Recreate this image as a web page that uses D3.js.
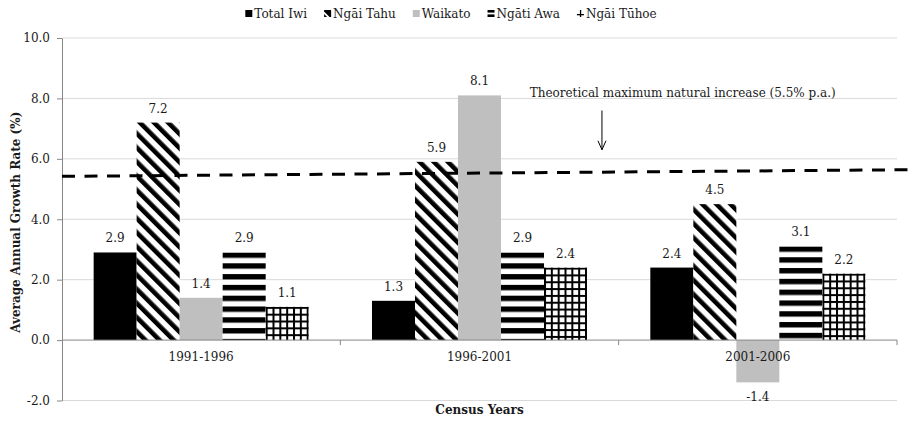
<!DOCTYPE html>
<html><head><meta charset="utf-8">
<script src="https://cdn.jsdelivr.net/npm/d3@7"></script>
<style>
body{margin:0;background:#fff}
svg{display:block}
text{font-family:'DejaVu Serif',serif;fill:#1a1a1a}
</style>
</head><body>
<svg id="chart" width="912" height="421"></svg>
<script>
// ---- data ----
const categories = ["1991-1996", "1996-2001", "2001-2006"];
const seriesNames = ["Total Iwi", "Ngāi Tahu", "Waikato", "Ngāti Awa", "Ngāi Tūhoe"];
const totalIwi = [2.9, 1.3, 2.4];
const ngaiTahu = [7.2, 5.9, 4.5];
const waikato = [1.4, 8.1, -1.4];
const ngatiAwa = [2.9, 2.9, 3.1];
const ngaiTuhoe = [1.1, 2.4, 2.2];
const yTicks = [-2, 0, 2, 4, 6, 8, 10];
const yTickLabels = ["-2.0", "0.0", "2.0", "4.0", "6.0", "8.0", "10.0"];
const maxIncreaseLine = [5.42, 5.64]; // start and end of the dashed reference line
const annotationText = "Theoretical maximum natural increase (5.5% p.a.)";
const yTitle = "Average Annual Growth Rate (%)";
const xTitle = "Census Years";

const seriesValues = [totalIwi, ngaiTahu, waikato, ngatiAwa, ngaiTuhoe];
const seriesStyle = ["solid-black", "diag", "solid-grey", "hstripe", "grid"];

// ---- layout ----
const W = 912, H = 421;
const M = {left: 62, right: 897, top: 38, bottom: 400.5};
const FS = 12;
const svg = d3.select("#chart");
const defs = svg.append("defs");

const x0 = d3.scaleBand().domain(categories).range([M.left, M.right]);
const x1 = d3.scaleBand().domain(seriesNames).range([0, x0.bandwidth()]).paddingInner(0).paddingOuter(0.736);
const y = d3.scaleLinear().domain([-2, 10]).range([M.bottom, M.top]);
const bw = x1.bandwidth();

// gridlines
svg.append("g").selectAll("line").data(yTicks.filter(d => d !== 0)).join("line")
  .attr("x1", M.left).attr("x2", M.right)
  .attr("y1", d => y(d)).attr("y2", d => y(d))
  .attr("stroke", "#d9d9d9").attr("stroke-width", 1);

// pattern makers
let pid = 0;
function makePattern(style, px, py, w) {
  const id = "p" + (pid++);
  if (style === "diag") {
    const p = defs.append("pattern").attr("id", id).attr("patternUnits", "userSpaceOnUse")
      .attr("width", 10).attr("height", 10).attr("patternTransform", "rotate(-45)");
    p.append("rect").attr("width", 10).attr("height", 10).attr("fill", "#fff");
    p.append("rect").attr("width", 4.6).attr("height", 10).attr("fill", "#000");
  } else if (style === "hstripe") {
    const per = 10.8;
    const p = defs.append("pattern").attr("id", id).attr("patternUnits", "userSpaceOnUse")
      .attr("x", px).attr("y", py).attr("width", 20).attr("height", per);
    p.append("rect").attr("width", 20).attr("height", per).attr("fill", "#fff");
    p.append("rect").attr("width", 20).attr("height", 5.4).attr("fill", "#000");
  } else if (style === "grid") {
    const per = (w - 2) / 6;
    const p = defs.append("pattern").attr("id", id).attr("patternUnits", "userSpaceOnUse")
      .attr("x", px).attr("y", py).attr("width", per).attr("height", per);
    p.append("rect").attr("width", per).attr("height", per).attr("fill", "#fff");
    p.append("rect").attr("width", 2).attr("height", per).attr("fill", "#000");
    p.append("rect").attr("width", per).attr("height", 2).attr("fill", "#000");
  }
  return "url(#" + id + ")";
}
function fillFor(style, px, py, w) {
  if (style === "solid-black") return "#000";
  if (style === "solid-grey") return "#bfbfbf";
  return makePattern(style, px, py, w);
}

// bars
const barG = svg.append("g");
seriesNames.forEach((s, si) => {
  seriesValues[si].forEach((v, ci) => {
    const bx = x0(categories[ci]) + x1(s);
    const by = y(Math.max(0, v));
    const bh = Math.abs(y(v) - y(0));
    barG.append("rect").attr("x", bx).attr("y", by).attr("width", bw).attr("height", bh)
      .attr("fill", fillFor(seriesStyle[si], bx, by, bw));
  });
});

// data labels
const lblG = svg.append("g");
seriesNames.forEach((s, si) => {
  seriesValues[si].forEach((v, ci) => {
    const cx = x0(categories[ci]) + x1(s) + bw / 2;
    lblG.append("text").attr("x", cx)
      .attr("y", v >= 0 ? y(v) - 10 : y(v) + 19)
      .attr("text-anchor", "middle").attr("font-size", FS)
      .text(v.toFixed(1));
  });
});

// y axis
const yAxis = d3.axisLeft(y).tickValues(yTicks).tickFormat((d, i) => yTickLabels[i])
  .tickSize(5).tickSizeOuter(0).tickPadding(7);
const yg = svg.append("g").attr("transform", `translate(${M.left},0)`).call(yAxis);
yg.select(".domain").attr("stroke", "#868686");
yg.selectAll(".tick line").attr("stroke", "#868686");
yg.selectAll(".tick text").attr("font-size", FS).attr("font-family", "DejaVu Serif").attr("fill", "#1a1a1a");

// x axis at zero
const xg = svg.append("g");
xg.append("line").attr("x1", M.left).attr("x2", M.right).attr("y1", y(0)).attr("y2", y(0))
  .attr("stroke", "#868686");
const bounds = categories.map(c => x0(c)).concat([M.right]);
xg.selectAll("line.tk").data(bounds.slice(1)).join("line").attr("class", "tk")
  .attr("x1", d => d).attr("x2", d => d).attr("y1", y(0)).attr("y2", y(0) + 5)
  .attr("stroke", "#868686");
xg.selectAll("text").data(categories).join("text")
  .attr("x", d => x0(d) + x0.bandwidth() / 2).attr("y", y(0) + 21)
  .attr("text-anchor", "middle").attr("font-size", FS).text(d => d);

// dashed reference line
const lx = d3.scaleLinear().domain([0, 1]).range([M.left, W]);
svg.append("path")
  .attr("d", d3.line().x((d, i) => lx(i)).y(d => y(d))(maxIncreaseLine))
  .attr("stroke", "#000").attr("stroke-width", 3).attr("stroke-dasharray", "13,9.5").attr("fill", "none");

// annotation
const annX = x0(categories[1]) + x0.bandwidth() * 0.94;
svg.append("text").attr("x", x0(categories[2]) + x0.bandwidth() * 0.23).attr("y", y(8.05))
  .attr("text-anchor", "middle").attr("font-size", FS).text(annotationText);
svg.append("line").attr("x1", annX).attr("x2", annX).attr("y1", y(7.6)).attr("y2", y(6.3))
  .attr("stroke", "#000").attr("stroke-width", 1);
svg.append("path")
  .attr("d", `M${annX - 4},${y(6.3) - 9}L${annX},${y(6.3)}L${annX + 4},${y(6.3) - 9}`)
  .attr("stroke", "#000").attr("fill", "none").attr("stroke-width", 1);

// axis titles
svg.append("text").attr("transform", `translate(20,${(M.top + M.bottom) / 2 + 3}) rotate(-90)`)
  .attr("text-anchor", "middle").attr("font-size", FS).attr("font-weight", "bold").text(yTitle);
svg.append("text").attr("x", (M.left + M.right) / 2).attr("y", 414)
  .attr("text-anchor", "middle").attr("font-size", FS).attr("font-weight", "bold").text(xTitle);

// legend
const legG = svg.append("g");
const legItems = [];
let lxPos = 0;
seriesNames.forEach((s, si) => {
  const g = legG.append("g").attr("transform", `translate(${lxPos},0)`);
  const t = g.append("text").attr("x", 9).attr("y", 18).attr("font-size", 12).text(s);
  legItems.push({g, si});
  lxPos += 9 + t.node().getComputedTextLength() + 17;
});
const legWidth = lxPos - 17;
legG.attr("transform", `translate(${451 - legWidth / 2},0)`);
legItems.forEach(({g, si}) => {
  const st = seriesStyle[si];
  const sw = g.insert("g", "text").attr("transform", "translate(0,10)");
  if (st === "solid-black" || st === "solid-grey") {
    sw.append("rect").attr("width", 7).attr("height", 7).attr("fill", st === "solid-black" ? "#000" : "#bfbfbf");
  } else if (st === "diag") {
    sw.append("path").attr("d", "M0,0H7V7H5.5L0,1.5Z").attr("fill", "#000");
    sw.append("path").attr("d", "M0,4L3,7H0Z").attr("fill", "#000");
  } else if (st === "hstripe") {
    sw.append("rect").attr("y", 0).attr("width", 7).attr("height", 2.6).attr("fill", "#000");
    sw.append("rect").attr("y", 4.4).attr("width", 7).attr("height", 2.6).attr("fill", "#000");
  } else {
    sw.append("rect").attr("x", 3).attr("y", 0).attr("width", 1.3).attr("height", 7).attr("fill", "#000");
    sw.append("rect").attr("x", 0).attr("y", 4).attr("width", 7).attr("height", 1.3).attr("fill", "#000");
  }
});
</script>
</body></html>
